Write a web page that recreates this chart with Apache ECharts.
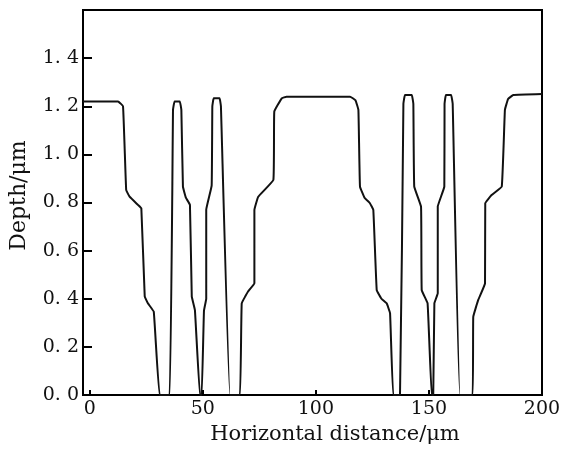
<!DOCTYPE html>
<html>
<head>
    <meta charset="utf-8">
    <title>Depth profile</title>
    <script src="https://cdn.jsdelivr.net/npm/echarts@6/dist/echarts.min.js"></script>
</head>
<body style="margin:0">
    <div id="main" style="width: 564px;height:461px;"></div>
    <script type="text/javascript">
        // profile: horizontal distance (um) and depth (um)
        var distX = [
            -3, 12.5, 14.7, 16.1, 17.6, 21.3, 22.8, 24.3, 25.7, 28.3, 30.9,
            35.3, 36.5, 36.8, 37.5, 39.8, 40.5, 41.2, 42.5, 44.3, 45.1, 46.5, 48.7,
            49.5, 50.5, 51.5, 51.5, 53.9, 54.2, 54.8, 57.4, 58.0, 62.0,
            66.4, 67.2, 70.0, 72.8, 72.8, 74.5, 81.2, 81.6, 84.9, 87.0, 115.1, 117.5, 118.8,
            119.5, 121.5, 123.9, 125.4, 126.9, 129.0, 131.3, 132.8, 134.2,
            137.2, 138.7, 139.4, 142.4, 143.1, 143.5, 146.5, 146.8, 149.4, 151.2,
            151.9, 152.4, 153.9, 153.9, 156.8, 156.9, 157.5, 159.8, 160.5, 163.7,
            169.3, 169.6, 171.8, 174.8, 174.9, 177.7, 182.2, 183.6, 185.0, 187.3, 200
        ];
        var depthY = [
            1.22, 1.22, 1.20, 0.852, 0.824, 0.79, 0.776, 0.41, 0.381, 0.346, 0,
            0, 0.852, 1.185, 1.22, 1.22, 1.185, 0.866, 0.82, 0.79, 0.41, 0.353, 0,
            0, 0.35, 0.40, 0.77, 0.87, 1.20, 1.233, 1.233, 1.20, 0,
            0, 0.381, 0.43, 0.464, 0.769, 0.824, 0.894, 1.178, 1.233, 1.24, 1.24, 1.225, 1.185,
            0.866, 0.82, 0.797, 0.769, 0.436, 0.40, 0.381, 0.34, 0,
            0, 1.21, 1.247, 1.247, 1.21, 0.866, 0.783, 0.436, 0.381, 0,
            0, 0.381, 0.423, 0.783, 0.866, 1.21, 1.247, 1.247, 1.21, 0,
            0, 0.325, 0.395, 0.464, 0.797, 0.831, 0.866, 1.185, 1.23, 1.247, 1.251
        ];
        var xTicks = [0, 50, 100, 150, 200];
        var yTicks = [0, 0.2, 0.4, 0.6, 0.8, 1.0, 1.2, 1.4];

        var profile = distX.map(function (x, i) { return [x, depthY[i]]; });
        var font = 'DejaVu Serif';

        var myChart = echarts.init(document.getElementById('main'));
        myChart.setOption({
            animation: false,
            grid: {
                left: 83, right: 22, top: 10, bottom: 66,
                show: true, borderColor: '#000', borderWidth: 2
            },
            xAxis: {
                type: 'value',
                min: -3, max: 200,
                name: 'Horizontal distance/\u03bcm',
                nameLocation: 'middle',
                nameGap: 22,
                nameTextStyle: { fontFamily: font, fontSize: 21, color: '#111', padding: [0, 0, 0, 45] },
                splitLine: { show: false },
                axisLine: { onZero: false, lineStyle: { color: '#000', width: 2 } },
                axisTick: { inside: true, length: 5, lineStyle: { color: '#000', width: 2 }, customValues: xTicks },
                axisLabel: { fontFamily: font, fontSize: 19, color: '#111', margin: 5, customValues: xTicks }
            },
            yAxis: {
                type: 'value',
                min: 0, max: 1.6, interval: 0.2,
                name: 'Depth/\u03bcm',
                nameLocation: 'middle',
                nameGap: 53,
                nameTextStyle: { fontFamily: font, fontSize: 22, color: '#111', padding: [0, 0, 0, 14] },
                splitLine: { show: false },
                axisLine: { onZero: false, lineStyle: { color: '#000', width: 2 } },
                axisTick: { inside: true, length: 9, lineStyle: { color: '#000', width: 2 }, customValues: yTicks },
                axisLabel: {
                    fontFamily: font, fontSize: 19, color: '#111', margin: 4,
                    customValues: yTicks,
                    formatter: function (v) { return v.toFixed(1).replace('.', '. '); }
                }
            },
            series: [{
                type: 'line',
                data: profile,
                symbol: 'none',
                smooth: 0.08,
                lineStyle: { color: '#111', width: 2 }
            }]
        });
    </script>
</body>
</html>
